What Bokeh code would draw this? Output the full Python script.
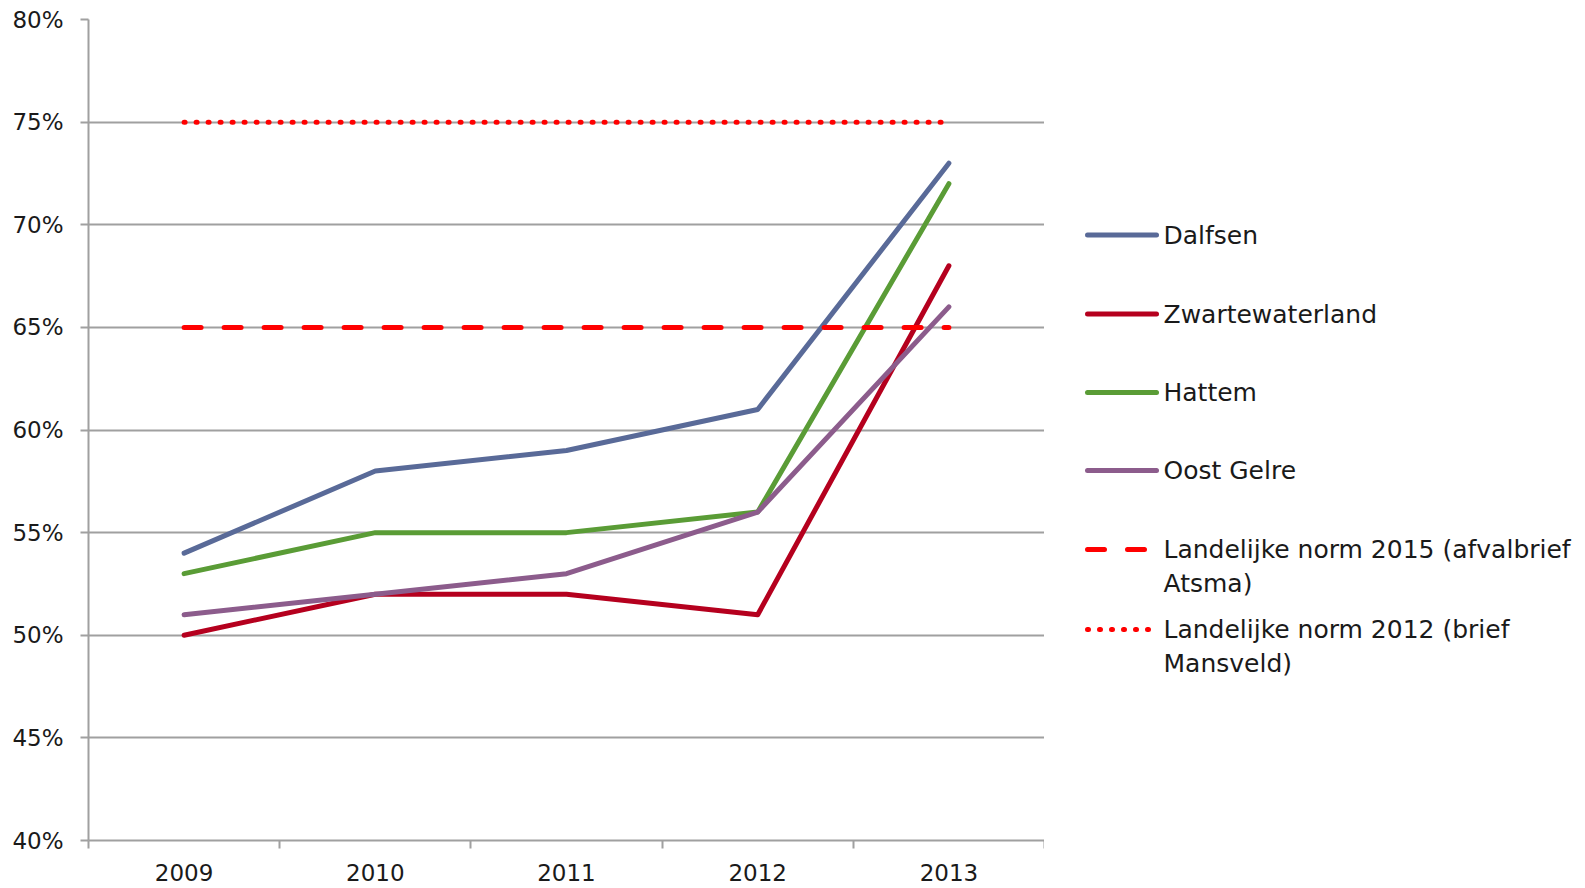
from bokeh.plotting import figure
from bokeh.layouts import row
from bokeh.models import Range1d, FixedTicker, PrintfTickFormatter, CustomJSTickFormatter
from bokeh.core.properties import value
from bokeh.embed import file_html
from bokeh.resources import INLINE

# ---- data ----
years = ["2009", "2010", "2011", "2012", "2013"]
dalfsen = [54, 58, 59, 61, 73]
zwartewaterland = [50, 52, 52, 51, 68]
hattem = [53, 55, 55, 56, 72]
oost_gelre = [51, 52, 53, 56, 66]
norm_2015 = [65, 65, 65, 65, 65]
norm_2012 = [75, 75, 75, 75, 75]
y_ticks = [40, 45, 50, 55, 60, 65, 70, 75, 80]

names = ["Dalfsen", "Zwartewaterland", "Hattem", "Oost Gelre",
         "Landelijke norm 2015 (afvalbrief\nAtsma)",
         "Landelijke norm 2012 (brief\nMansveld)"]
series = [dalfsen, zwartewaterland, hattem, oost_gelre, norm_2015, norm_2012]

# ---- styles ----
colors = ["#596A98", "#B5001E", "#5A9C36", "#8C5C8C", "#FF0000", "#FF0000"]
widths = [5, 5, 5, 5, 5, 5]
dashes = ["solid", "solid", "solid", "solid", "17 23", "1 11"]
FONT = "DejaVu Sans"
GRAY = "#A0A0A0"
TXT = "#1a1a1a"

TOP, FH, LEFT, FW, BOT = 19, 821, 88, 956, 47

xs = [i + 0.5 for i in range(len(years))]

p = figure(frame_width=FW, frame_height=FH,
           x_range=Range1d(0, len(years)), y_range=Range1d(40, 80),
           output_backend="svg", toolbar_location=None,
           min_border_left=LEFT, min_border_top=TOP, min_border_bottom=BOT, min_border_right=0)
p.outline_line_color = None
p.background_fill_color = "white"
p.border_fill_color = "white"

for ys, c, w, d in zip(series, colors, widths, dashes):
    p.line(xs, ys, line_color=c, line_width=w, line_dash=d, line_cap="round", line_join="round")

# x axis
p.xaxis.ticker = FixedTicker(ticks=xs, minor_ticks=list(range(len(years) + 1)))
p.xaxis.formatter = CustomJSTickFormatter(args=dict(years=years), code="return years[Math.floor(tick)];")
p.xaxis.major_tick_out = 0
p.xaxis.major_tick_in = 0
p.xaxis.minor_tick_out = 8
p.xaxis.minor_tick_in = 0
p.xaxis.minor_tick_line_color = GRAY
p.xaxis.minor_tick_line_width = 2
p.xaxis.major_label_standoff = 15

# y axis
p.yaxis.ticker = FixedTicker(ticks=y_ticks)
p.yaxis.formatter = PrintfTickFormatter(format="%d%%")
p.yaxis.major_tick_out = 8
p.yaxis.major_tick_in = 0
p.yaxis.major_tick_line_color = GRAY
p.yaxis.major_tick_line_width = 2
p.yaxis.minor_tick_line_color = None
p.yaxis.major_label_standoff = 17

p.axis.axis_line_color = GRAY
p.axis.axis_line_width = 2
p.axis.major_label_text_font = FONT
p.axis.major_label_text_font_size = "23px"
p.axis.major_label_text_color = TXT

p.xgrid.visible = False
p.ygrid.grid_line_color = GRAY
p.ygrid.grid_line_width = 2

# ---- legend (separate panel; its frame is aligned with the main frame) ----
LW = 538
lg = figure(width=LW, height=TOP + FH + BOT, x_range=Range1d(0, LW), y_range=Range1d(TOP + FH, TOP),
            output_backend="svg", toolbar_location=None, min_border=0,
            min_border_top=TOP, min_border_bottom=BOT,
            x_axis_location=None, y_axis_location=None)
lg.grid.visible = False
lg.outline_line_color = None

entry_y = [234.5, 313.5, 392, 470, 549, 629]
for name, c, w, d, ey in zip(names, colors, widths, dashes, entry_y):
    lg.line([43, 112], [ey, ey], line_color=c, line_width=w, line_dash=d, line_cap="round")
    for k, part in enumerate(name.split("\n")):
        lg.text(x=[119], y=[ey + 33.5 * k], text=[part], text_baseline="middle", text_align="left",
                text_font=value(FONT), text_font_size="25px", text_color=TXT)

layout = row(p, lg)
open("out.html", "w").write(file_html(layout, INLINE))
